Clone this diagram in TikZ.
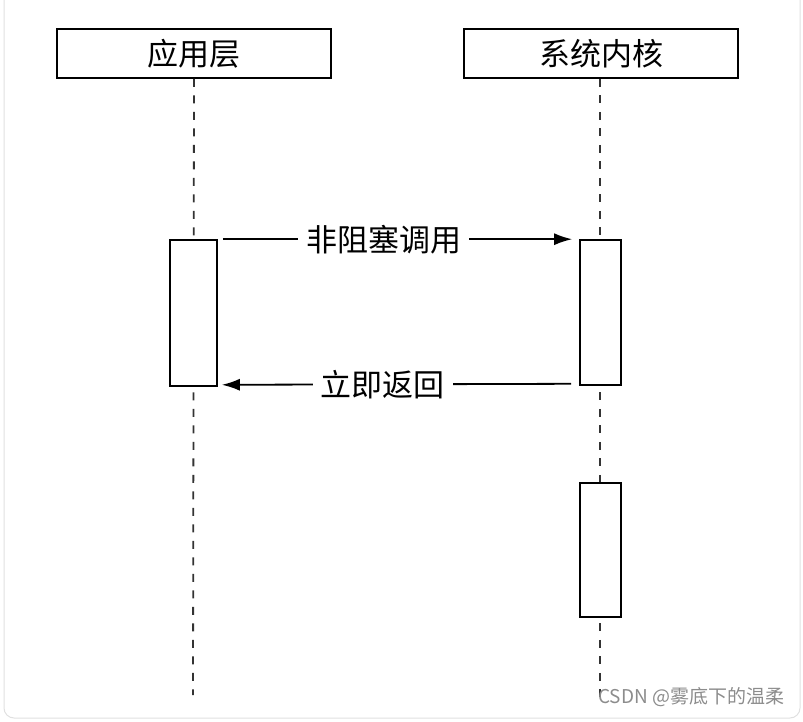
\documentclass[tikz,border=0pt]{standalone}
\usepackage{fontspec}
\setmainfont{Noto Sans CJK SC}
\usetikzlibrary{arrows.meta}
\begin{document}
\begin{tikzpicture}[x=1pt,y=-1pt,
  head/.style={draw=black,line width=1.8pt,fill=white,minimum width=274pt,minimum height=49pt,inner sep=0pt,font=\fontsize{31}{34}\selectfont},
  act/.style={draw=black,line width=1.6pt,fill=white,inner sep=0pt},
  life/.style={draw=black!80,line width=1.8pt,dash pattern=on 8pt off 8.5pt},
  msg/.style={draw=black,line width=1.8pt,-{Latex[length=18pt,width=12pt]}},
  lbl/.style={fill=white,inner xsep=8pt,inner ysep=2pt,font=\fontsize{31}{34}\selectfont}]
\useasboundingbox (0,0) rectangle (803,722);
\draw[black!12,line width=1pt,rounded corners=10pt] (4,-20) rectangle (800,718);
% heads
\node[head] (app) at (194,53.5) {应用层};
\node[head] (ker) at (601,53.5) {系统内核};
% lifeline ends
\coordinate (append) at (193,695);
\coordinate (kerend) at (600,705);
\draw[life] (app.south) -- (append);
\draw[life] ([xshift=-1pt]ker.south) -- (kerend);
% activations
\node[act,minimum width=47pt,minimum height=146pt] (la) at (193.5,313) {};
\node[act,minimum width=41pt,minimum height=145pt] (ra) at (600.5,312.5) {};
\node[act,minimum width=41pt,minimum height=134pt] (rb) at (600.5,550) {};
% messages
\draw[msg] ([xshift=5pt]la.north east) -- node[lbl,pos=0.46] {非阻塞调用} ([xshift=-7pt]ra.north west);
\draw[msg] ([xshift=-8pt,yshift=2pt]ra.south west) -- node[lbl,pos=0.54] {立即返回} ([xshift=4pt,yshift=2pt]la.south east);
% watermark
\node[anchor=west,text=black!45,font=\fontsize{19}{21}\selectfont,inner sep=0pt] (wm) at (598,697) {CSDN @雾底下的温柔};
\end{tikzpicture}
\end{document}
